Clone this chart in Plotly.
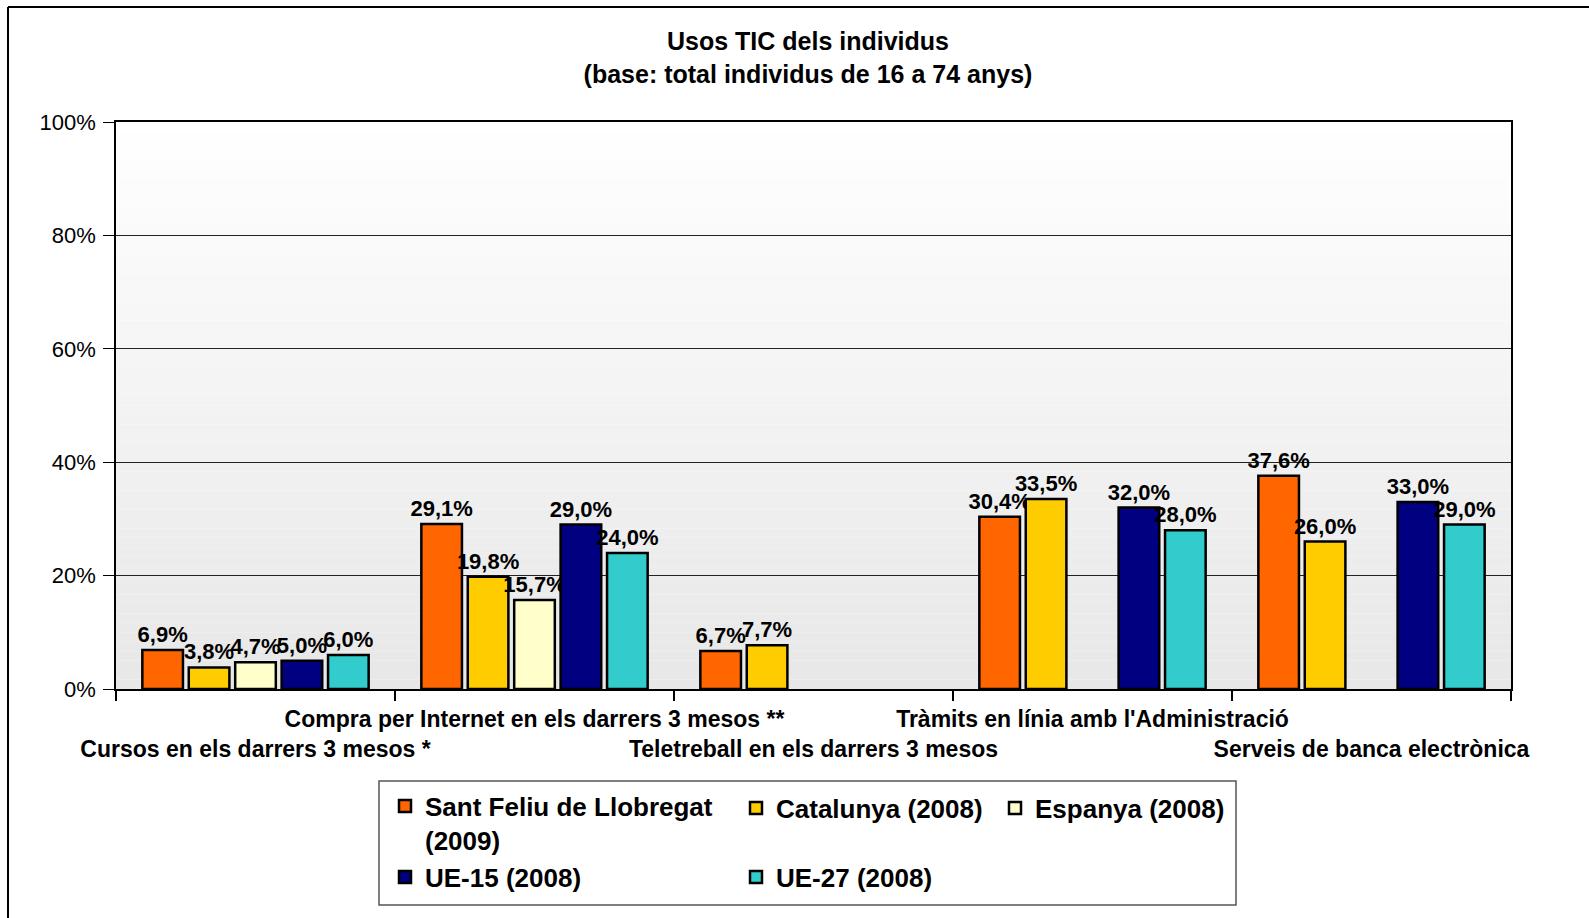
import plotly.graph_objects as go

categories = [
    "Cursos en els darrers 3 mesos *",
    "Compra per Internet en els darrers 3 mesos **",
    "Teletreball en els darrers 3 mesos",
    "Tràmits en línia amb l'Administració",
    "Serveis de banca electrònica",
]
series_names = [
    "Sant Feliu de Llobregat<br>(2009)",
    "Catalunya (2008)",
    "Espanya (2008)",
    "UE-15 (2008)",
    "UE-27 (2008)",
]
sant_feliu = [6.9, 29.1, 6.7, 30.4, 37.6]
catalunya = [3.8, 19.8, 7.7, 33.5, 26.0]
espanya = [4.7, 15.7, None, None, None]
ue15 = [5.0, 29.0, None, 32.0, 33.0]
ue27 = [6.0, 24.0, None, 28.0, 29.0]
y_ticks = [0, 20, 40, 60, 80, 100]

colors = ["#FF6600", "#FFCC00", "#FFFFCC", "#000080", "#33CCCC"]
values = [sant_feliu, catalunya, espanya, ue15, ue27]

W, H = 1589, 918
ML, MR, MT, MB = 116, 78, 122, 229
PW, PH = W - ML - MR, H - MT - MB
FONT = "Liberation Sans, Arial, sans-serif"

def px_x(px):
    return (px - ML) / PW

def px_y(py):
    return (H - MB - py) / PH

# legend placement (container coordinates): item origin x, item centre y in pixels
legend_pos = [(385, 823), (736, 808), (995, 808), (385, 877), (736, 877)]
legend_keys = ["legend2", "legend3", "legend4", "legend5", "legend6"]

fig = go.Figure()
for i in range(5):
    fig.add_trace(go.Bar(
        name=series_names[i],
        x=categories,
        y=values[i],
        marker=dict(color=colors[i], line=dict(color="#000000", width=2.5)),
        texttemplate="%{y:.1f}%",
        textposition="outside",
        textfont=dict(family=FONT, size=22, color="#000000", weight="bold"),
        cliponaxis=False,
        constraintext="none",
        legend=legend_keys[i],
        showlegend=True,
        hoverinfo="skip",
    ))

# staggered category labels
ticktext = []
for j, c in enumerate(categories):
    if j % 2 == 0:
        ticktext.append("&nbsp;<br>" + c)
    else:
        ticktext.append(c + "<br>&nbsp;")

shapes = []
# gradient plot background
n = 60
for k in range(n):
    g = int(round(231 + (255 - 231) * (k + 0.5) / n))
    shapes.append(dict(
        type="rect", xref="x domain", yref="y domain",
        x0=0, x1=1, y0=k / n, y1=(k + 1) / n,
        fillcolor=f"rgb({g},{g},{g})", line=dict(width=0), layer="below",
    ))
# outer frame (left and top edges)
shapes.append(dict(
    type="line", xref="paper", yref="paper",
    x0=px_x(8), x1=px_x(8), y0=px_y(918), y1=px_y(7),
    line=dict(color="#000000", width=2),
))
shapes.append(dict(
    type="line", xref="paper", yref="paper",
    x0=px_x(8), x1=px_x(1589), y0=px_y(7), y1=px_y(7),
    line=dict(color="#000000", width=2),
))
# legend box
shapes.append(dict(
    type="rect", xref="paper", yref="paper",
    x0=px_x(379), x1=px_x(1236), y0=px_y(905), y1=px_y(781),
    line=dict(color="#555555", width=1.5), fillcolor="rgba(0,0,0,0)",
))

layout_legends = {}
for key, (lx, ly) in zip(legend_keys, legend_pos):
    layout_legends[key] = dict(
        xref="container", yref="container",
        x=lx / W, y=1 - ly / H, xanchor="left", yanchor="middle",
        valign="top",
        bgcolor="rgba(0,0,0,0)", borderwidth=0,
        font=dict(family=FONT, size=26, color="#000000", weight="bold"),
    )

fig.update_layout(
    width=W, height=H,
    margin=dict(l=ML, r=MR, t=MT, b=MB, autoexpand=False),
    paper_bgcolor="#FFFFFF",
    plot_bgcolor="rgba(0,0,0,0)",
    separators=",.",
    barmode="group",
    bargap=0.168,
    bargroupgap=0.125,
    showlegend=True,
    title=dict(
        text="Usos TIC dels individus<br>(base: total individus de 16 a 74 anys)",
        xref="container", yref="container",
        x=808 / W, y=1 - 50 / H, xanchor="center", yanchor="middle",
        font=dict(family=FONT, size=25, color="#000000", weight="bold"),
    ),
    xaxis=dict(
        type="category",
        tickvals=categories, ticktext=ticktext,
        tickson="boundaries",
        ticks="outside", ticklen=10, tickcolor="#000000", tickwidth=1.5,
        showline=True, linecolor="#000000", linewidth=1.5, mirror=True,
        showgrid=False,
        tickangle=0,
        ticklabelstandoff=9,
        tickfont=dict(family=FONT, size=23, color="#000000", weight="bold"),
    ),
    yaxis=dict(
        range=[0, 100],
        tickvals=y_ticks,
        ticktext=[f"{v}%" for v in y_ticks],
        ticks="outside", ticklen=11, tickcolor="#000000",
        showline=True, linecolor="#000000", linewidth=1.5, mirror=True,
        showgrid=True, gridcolor="#222222", gridwidth=1,
        zeroline=False,
        ticklabelstandoff=3,
        tickfont=dict(family=FONT, size=22, color="#000000"),
    ),
    shapes=shapes,
    **layout_legends,
)

fig.write_html(
    "out.html",
    config={"displayModeBar": False},
    post_script="document.body.style.margin='0';",
)
